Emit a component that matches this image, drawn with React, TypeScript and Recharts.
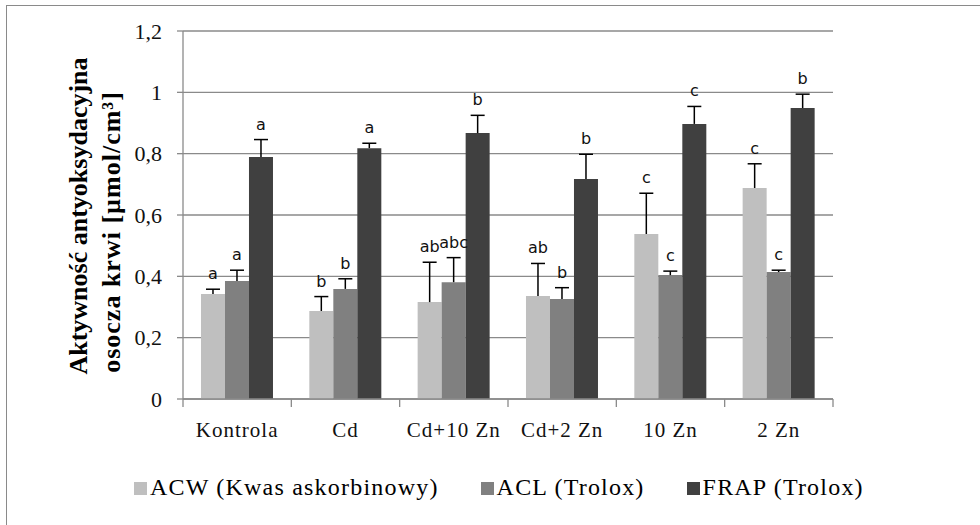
import React from 'react';
import {BarChart,Bar,XAxis,YAxis,CartesianGrid,LabelList} from 'recharts';

// dane
const categories=['Kontrola','Cd','Cd+10 Zn','Cd+2 Zn','10 Zn','2 Zn'];
const acw=[0.342,0.287,0.316,0.336,0.538,0.688];
const acwErr=[0.016,0.047,0.130,0.106,0.133,0.079];
const acwSig=['a','b','ab','ab','c','c'];
const acl=[0.385,0.359,0.381,0.326,0.404,0.414];
const aclErr=[0.035,0.033,0.080,0.037,0.013,0.006];
const aclSig=['a','b','abc','b','c','c'];
const frap=[0.789,0.818,0.867,0.717,0.897,0.949];
const frapErr=[0.057,0.016,0.058,0.081,0.057,0.045];
const frapSig=['a','a','b','b','c','b'];
const yTicks=[0,0.2,0.4,0.6,0.8,1,1.2];
const seriesNames=['ACW (Kwas askorbinowy)','ACL (Trolox)','FRAP (Trolox)'];
const seriesColors=['#BFBFBF','#808080','#404040'];

const data=categories.map((c,i)=>({name:c,acw:acw[i],acl:acl[i],frap:frap[i]}));

const W=980,H=525;
const YW=60,XH=30;
const M={top:31,right:147,bottom:96,left:123};
const plotW=W-M.left-YW-M.right;
const serif="'Liberation Serif','Times New Roman',serif";
const axisC='#8a8a8a';

const XTick=(p:any)=>{
  const{x,y,payload,index,visibleTicksCount}=p;
  const half=plotW/categories.length/2;
  return(
    <g>
      <line x1={x-half} y1={y} x2={x-half} y2={y+8} stroke={axisC} strokeWidth={1.3}/>
      {index===visibleTicksCount-1&&<line x1={x+half} y1={y} x2={x+half} y2={y+8} stroke={axisC} strokeWidth={1.3}/>}
      <text x={x} y={y+38} textAnchor="middle" fontFamily={serif} fontSize={21} letterSpacing={1} fill="#111">{payload.value}</text>
    </g>
  );
};

const errLabel=(errs:number[],sigs:string[])=>(p:any)=>{
  const vb=p.viewBox||p;
  const i=p.index;
  const v=Number(p.value);
  const h=Math.abs(vb.height);
  const top=Math.min(vb.y,vb.y+vb.height);
  const cx=vb.x+vb.width/2;
  const e=v?errs[i]*h/v:0;
  const ey=top-e;
  return(
    <g key={i}>
      <line x1={cx} y1={top} x2={cx} y2={ey} stroke="#000" strokeWidth={1.5}/>
      <line x1={cx-7} y1={ey} x2={cx+7} y2={ey} stroke="#000" strokeWidth={1.5}/>
      <text x={cx} y={ey-10} textAnchor="middle" fontFamily="'DejaVu Sans',sans-serif" fontSize={16} fill="#111">{sigs[i]}</text>
    </g>
  );
};

const YTitle=()=>(
  <g fontFamily={serif} fontWeight="bold" fontSize={26} fill="#000">
    <text x={87} y={216} transform="rotate(-90 87 216)" textAnchor="middle">Aktywność antyoksydacyjna</text>
    <text x={120} y={232} transform="rotate(-90 120 232)" textAnchor="middle" letterSpacing={1}>osocza krwi [µmol/cm³]</text>
  </g>
);

export default function App(){
  return(
    <div style={{position:'absolute',left:0,top:0,width:W,height:H,overflow:'hidden',background:'#fff'}}>
      <div style={{position:'absolute',left:6,top:5,width:1200,height:800,borderLeft:'1px solid #8a8a8a',borderTop:'1px solid #8a8a8a'}}/>
      <div style={{position:'absolute',left:0,top:0}}>
        <BarChart width={W} height={H} data={data} margin={M} barCategoryGap="16.6%" barGap={0}>
          <CartesianGrid vertical={false} stroke={axisC} strokeWidth={1.4}/>
          <XAxis dataKey="name" height={XH} tickLine={false} tickSize={0} tickMargin={0} stroke={axisC} strokeWidth={1.3} tick={<XTick/>} interval={0}/>
          <YAxis width={YW} domain={[0,1.2]} ticks={yTicks} interval={0} stroke={axisC} strokeWidth={1.3} tickSize={6} tickMargin={15}
            tick={{fontFamily:serif,fontSize:22,fill:'#111'}}
            tickFormatter={(v:number)=>String(Math.round(v*10)/10).replace('.',',')}
            label={{content:()=><YTitle/>}}/>
          <Bar dataKey="acw" fill={seriesColors[0]} isAnimationActive={false}>
            <LabelList dataKey="acw" content={errLabel(acwErr,acwSig)}/>
          </Bar>
          <Bar dataKey="acl" fill={seriesColors[1]} isAnimationActive={false}>
            <LabelList dataKey="acl" content={errLabel(aclErr,aclSig)}/>
          </Bar>
          <Bar dataKey="frap" fill={seriesColors[2]} isAnimationActive={false}>
            <LabelList dataKey="frap" content={errLabel(frapErr,frapSig)}/>
          </Bar>
        </BarChart>
      </div>
      {/* legenda */}
      <div style={{position:'absolute',left:134,top:474,display:'flex',gap:'42px',fontFamily:serif,fontSize:'24px',letterSpacing:'1.2px',lineHeight:'26px',color:'#000',whiteSpace:'nowrap'}}>
        {seriesNames.map((n,i)=>(
          <div key={n}>
            <span style={{display:'inline-block',width:'13px',height:'13px',background:seriesColors[i],marginRight:'3px'}}/>
            {n}
          </div>
        ))}
      </div>
    </div>
  );
}
